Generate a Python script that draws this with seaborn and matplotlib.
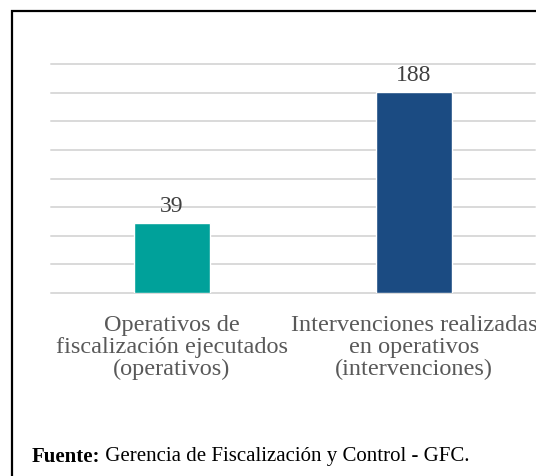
import matplotlib

matplotlib.use("Agg")

import matplotlib.pyplot as plt
import numpy as np
import pandas as pd
import seaborn as sns
from matplotlib.patches import Rectangle

# chart data
categories = [
    "Operativos de\nfiscalización ejecutados\n(operativos)",
    "Intervenciones realizadas\nen operativos\n(intervenciones)",
]
values = [39, 188]
bar_colors = ["#00A19A", "#1B4B82"]

# value axis as in the source chart: axis crosses at its minimum
y_min, y_max, n_grid = -40, 220, 8

source_bold = "Fuente:"
source_text = " Gerencia de Fiscalización y Control - GFC."

W, H, DPI = 536, 477, 100

sns.set_theme(style="white")
plt.rcParams["font.family"] = ["Liberation Serif", "DejaVu Serif"]

df = pd.DataFrame({"categoria": categories, "valor": values})
df["altura"] = df["valor"] - y_min

fig = plt.figure(figsize=(W / DPI, H / DPI), dpi=DPI)
ax = fig.add_axes([51 / W, 1 - 294 / H, (535 - 51) / W, (294 - 65) / H])

sns.barplot(
    data=df,
    x="categoria",
    y="altura",
    hue="categoria",
    palette=bar_colors,
    legend=False,
    errorbar=None,
    width=0.314,
    bottom=y_min,
    saturation=1,
    ax=ax,
)

ax.set_xlim(-0.5, 1.5)
ax.set_ylim(y_min, y_max)
ax.set_yticks(np.linspace(y_min, y_max, n_grid + 1))
ax.set_yticklabels([])
ax.yaxis.grid(True, color="#d9d9d9", linewidth=1.4)
ax.set_axisbelow(True)
for gl in ax.get_ygridlines():
    gl.set_clip_on(False)
for s in ax.spines.values():
    s.set_visible(False)
ax.tick_params(axis="both", length=0)
ax.tick_params(axis="x", pad=15)
ax.set_xlabel("")
ax.set_ylabel("")
for lbl in ax.get_xticklabels():
    lbl.set_fontsize(17.5)
    lbl.set_color("#595959")
    lbl.set_linespacing(1.06)

# value labels above the bars
for bar in ax.patches:
    top = bar.get_y() + bar.get_height()
    ax.annotate(f"{top:.0f}", (bar.get_x() + bar.get_width() / 2, top),
                xytext=(0, 5), textcoords="offset points",
                ha="center", va="bottom", fontsize=17, color="#404040")

# frame around the figure (runs off the right and bottom edges)
fig.patches.append(Rectangle((12 / W, -0.05), 1.1, 1 - 12 / H + 0.05,
                             transform=fig.transFigure, fill=False,
                             edgecolor="black", linewidth=1.6))

t1 = fig.text(32 / W, 1 - 457 / H, source_bold, fontsize=15,
              fontweight="bold", va="center", ha="left", color="black")
fig.canvas.draw()
bb = t1.get_window_extent()
fig.text(bb.x1 / W, 1 - 457 / H, source_text, fontsize=15,
         va="center", ha="left", color="black")

fig.savefig("out.png", dpi=DPI)
